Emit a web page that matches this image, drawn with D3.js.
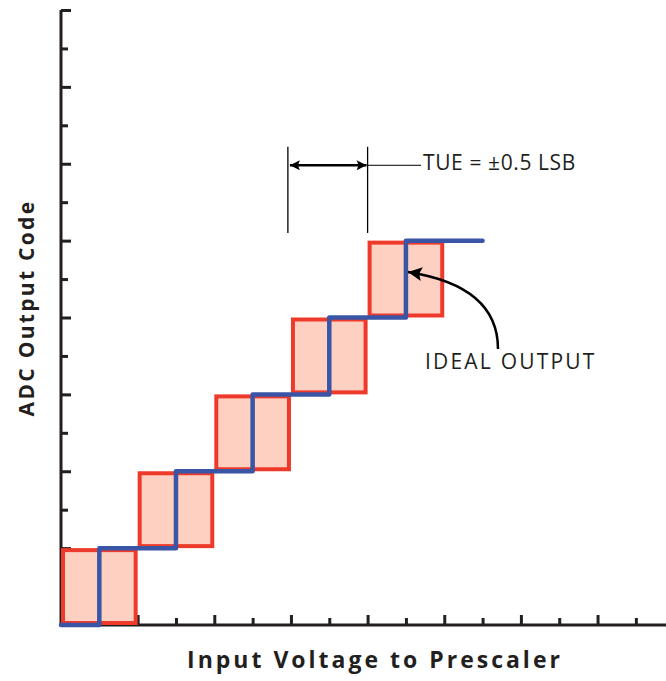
<!DOCTYPE html>
<html>
<head>
<meta charset="utf-8">
<script src="https://cdn.jsdelivr.net/npm/d3@7"></script>
<style>
  body { margin: 0; background: #fff; }
  text { font-family: "Open Sans", "Noto Sans", sans-serif; fill: #231f20; }
</style>
</head>
<body>
<svg></svg>
<script>
let width = 666
let height = 681

// codes (in LSB) whose transition band is drawn
let bandCodes = [0, 1, 2, 3, 4]
// ideal transfer curve, x in LSB of input, y in output code
let idealX = [0, 0.5, 0.5, 1.5, 1.5, 2.5, 2.5, 3.5, 3.5, 4.5, 4.5, 5.5]
let idealY = [0, 0, 1, 1, 2, 2, 3, 3, 4, 4, 5, 5]
// tick positions (half LSB steps)
let xTicks = d3.range(0.5, 8, 0.5)
let yTicks = d3.range(0.5, 8.01, 0.5)
// TUE bracket
let tueBand = [2.96, 4]

let x = d3.scaleLinear().domain([0, 8]).range([61, 61 + 8 * 76.65])
let y = d3.scaleLinear().domain([0, 8]).range([625, 10])

let svg = d3.select('svg')
    .attr('width', width)
    .attr('height', height)

let defs = svg.append('defs')
defs.append('marker')
    .attr('id', 'head')
    .attr('viewBox', '0 0 10 10')
    .attr('refX', 10)
    .attr('refY', 5)
    .attr('markerUnits', 'userSpaceOnUse')
    .attr('markerWidth', 15)
    .attr('markerHeight', 10)
    .attr('orient', 'auto-start-reverse')
  .append('path')
    .attr('d', 'M0,0 L10,5 L0,10 L2,5 Z')
    .attr('fill', '#000')
defs.append('marker')
    .attr('id', 'head2')
    .attr('viewBox', '0 0 10 10')
    .attr('refX', 10)
    .attr('refY', 5)
    .attr('markerUnits', 'userSpaceOnUse')
    .attr('markerWidth', 20)
    .attr('markerHeight', 14)
    .attr('orient', 'auto')
  .append('path')
    .attr('d', 'M0,0 L10,5 L0,10 L2,5 Z')
    .attr('fill', '#000')

// axes
let xAxis = d3.axisBottom(x)
    .tickValues(xTicks)
    .tickSizeInner(-10)
    .tickSizeOuter(0)
    .tickFormat('')
let yAxis = d3.axisLeft(y)
    .tickValues(yTicks)
    .tickSizeInner(-10)
    .tickSizeOuter(0)
    .tickFormat('')

let gx = svg.append('g')
    .attr('transform', `translate(0, ${y(0)})`)
    .call(xAxis)
gx.select('.domain').attr('d', `M${x(0)},0H${width}`)
gx.selectAll('.tick line')
    .attr('y2', d => (d % 1 === 0) ? -10 : -7)

let gy = svg.append('g')
    .attr('transform', `translate(${x(0)}, 0)`)
    .call(yAxis)
gy.select('.domain').attr('d', `M0,${y(0)}V${y(8)}`)
gy.selectAll('.tick line')
    .attr('x2', d => (d % 1 === 0) ? 10 : 7)

svg.selectAll('.domain, .tick line')
    .attr('stroke', '#231f20')
    .attr('stroke-width', 3)

// TUE bands
svg.selectAll('.band')
  .data(bandCodes)
  .enter()
  .append('rect')
    .classed('band', true)
    .attr('x', d => x(d) + 2)
    .attr('y', d => y(d + 1) + 2)
    .attr('width', d => x(d + 1) - x(d) - 4)
    .attr('height', d => y(d) - y(d + 1) - 4)
    .attr('fill', '#fdd0c1')
    .attr('stroke', '#ee3a2a')
    .attr('stroke-width', 4)

// ideal output
let line = d3.line()
    .x(d => x(d[0]))
    .y(d => y(d[1]))

svg.append('path')
    .datum(d3.zip(idealX, idealY))
    .attr('d', line)
    .attr('fill', 'none')
    .attr('stroke', '#3b55a6')
    .attr('stroke-width', 4.5)
    .attr('stroke-linecap', 'round')
    .attr('stroke-linejoin', 'round')

// TUE bracket
tueBand.forEach(v => {
  svg.append('line')
      .attr('x1', x(v)).attr('x2', x(v))
      .attr('y1', y(6.22)).attr('y2', y(5.1))
      .attr('stroke', '#000')
      .attr('stroke-width', 1.3)
})
svg.append('line')
    .attr('x1', x(tueBand[0]) + 2).attr('x2', x(tueBand[1]) - 1)
    .attr('y1', y(5.98)).attr('y2', y(5.98))
    .attr('stroke', '#000')
    .attr('stroke-width', 2.5)
    .attr('marker-start', 'url(#head)')
    .attr('marker-end', 'url(#head)')
svg.append('line')
    .attr('x1', x(4)).attr('x2', 421)
    .attr('y1', y(5.98)).attr('y2', y(5.98))
    .attr('stroke', '#000')
    .attr('stroke-width', 1)
svg.append('text')
    .attr('x', 423)
    .attr('y', 170)
    .attr('font-size', 21)
    .attr('letter-spacing', 0.6)
    .text('TUE = ±0.5 LSB')

// ideal output callout
svg.append('path')
    .attr('d', 'M498,349 C498,310 472,282 408,272')
    .attr('fill', 'none')
    .attr('stroke', '#000')
    .attr('stroke-width', 2.5)
    .attr('marker-end', 'url(#head2)')
svg.append('text')
    .attr('x', 425)
    .attr('y', 369)
    .attr('font-size', 21)
    .attr('letter-spacing', 2.2)
    .text('IDEAL OUTPUT')

// axis titles
svg.append('text')
    .attr('x', 375)
    .attr('y', 668)
    .attr('text-anchor', 'middle')
    .attr('font-size', 23)
    .attr('font-weight', 'bold')
    .attr('letter-spacing', 3)
    .text('Input Voltage to Prescaler')

svg.append('text')
    .attr('transform', 'translate(34, 308) rotate(-90)')
    .attr('text-anchor', 'middle')
    .attr('font-size', 21)
    .attr('font-weight', 'bold')
    .attr('letter-spacing', 2.3)
    .text('ADC Output Code')
</script>
</body>
</html>
